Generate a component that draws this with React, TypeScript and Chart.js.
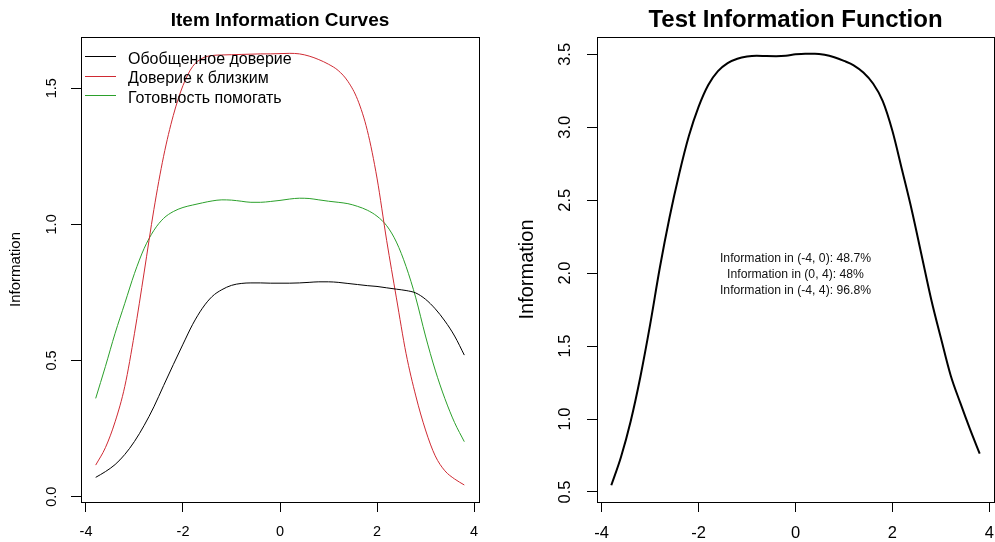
import React, { useEffect, useRef } from "react";
import { Chart, registerables } from "chart.js";

Chart.register(...registerables);

const FONT = '"Liberation Sans", Arial, sans-serif';

// ---- data ----
const theta = [
  -3.8, -3.6, -3.4, -3.2, -3.0, -2.8, -2.6, -2.4, -2.2, -2.0, -1.8, -1.6, -1.4,
  -1.2, -1.0, -0.8, -0.6, -0.4, -0.2, 0, 0.2, 0.4, 0.6, 0.8, 1.0, 1.2, 1.4, 1.6,
  1.8, 2.0, 2.2, 2.4, 2.6, 2.8, 3.0, 3.2, 3.4, 3.6, 3.8,
];

const seriesNames = ["Обобщенное доверие", "Доверие к близким", "Готовность помогать"];

const generalTrust = [
  0.071, 0.092, 0.118, 0.155, 0.203, 0.262, 0.33, 0.408, 0.485, 0.56, 0.633,
  0.692, 0.735, 0.76, 0.776, 0.783, 0.785, 0.785, 0.784, 0.784, 0.784, 0.785,
  0.787, 0.789, 0.789, 0.787, 0.783, 0.779, 0.775, 0.772, 0.767, 0.762, 0.757,
  0.748, 0.725, 0.69, 0.645, 0.59, 0.52,
];

const closeTrust = [
  0.116, 0.18, 0.275, 0.405, 0.6, 0.825, 1.055, 1.25, 1.4, 1.51, 1.58, 1.61, 1.62,
  1.622, 1.623, 1.624, 1.625, 1.626, 1.626, 1.627, 1.628, 1.626, 1.618, 1.605,
  1.588, 1.565, 1.525, 1.458, 1.345, 1.17, 0.94, 0.73, 0.525, 0.37, 0.245, 0.15,
  0.095, 0.065, 0.043,
];

const helpReadiness = [
  0.361, 0.478, 0.6, 0.71, 0.82, 0.912, 0.978, 1.022, 1.047, 1.062, 1.071, 1.079,
  1.086, 1.09, 1.089, 1.085, 1.081, 1.081, 1.084, 1.088, 1.093, 1.096, 1.095,
  1.09, 1.085, 1.081, 1.076, 1.066, 1.052, 1.03, 0.995, 0.935, 0.845, 0.73, 0.59,
  0.465, 0.36, 0.272, 0.202,
];

const testInfo = [
  0.546, 0.74, 0.985, 1.29, 1.645, 2.035, 2.38, 2.68, 2.94, 3.14, 3.29, 3.385,
  3.44, 3.47, 3.485, 3.49, 3.488, 3.487, 3.49, 3.5, 3.505, 3.505, 3.497, 3.48,
  3.455, 3.425, 3.375, 3.3, 3.18, 2.975, 2.705, 2.43, 2.125, 1.82, 1.555, 1.3,
  1.11, 0.93, 0.762,
];

const xTickValues = [-4, -2, 0, 2, 4];
const xTickLabels = ["-4", "-2", "0", "2", "4"];
const leftYTickValues = [0, 0.5, 1.0, 1.5];
const leftYTickLabels = ["0.0", "0.5", "1.0", "1.5"];
const rightYTickValues = [0.5, 1.0, 1.5, 2.0, 2.5, 3.0, 3.5];
const rightYTickLabels = ["0.5", "1.0", "1.5", "2.0", "2.5", "3.0", "3.5"];

const annotationLines = [
  "Information in (-4, 0): 48.7%",
  "Information in (0, 4): 48%",
  "Information in (-4, 4): 96.8%",
];

const itemColors = ["#000000", "#CF2A33", "#2BA02B"];

// ---- plugin drawing R-like frame, titles, labels ----
const rPlot = {
  id: "rplot",
  afterDraw(chart: any, _args: any, o: any) {
    const { ctx, chartArea: a, scales } = chart;
    const xs = scales.x;
    const ys = scales.y;
    ctx.save();
    ctx.strokeStyle = "#000";
    ctx.lineWidth = 1;
    const l = Math.round(a.left) + 0.5;
    const t = Math.round(a.top) + 0.5;
    ctx.strokeRect(l, t, Math.round(a.right) - Math.round(a.left), Math.round(a.bottom) - Math.round(a.top));

    ctx.fillStyle = "#000";
    // title
    ctx.font = `bold ${o.titleSize}px ${FONT}`;
    ctx.textAlign = "center";
    ctx.textBaseline = "alphabetic";
    ctx.fillText(o.title, (a.left + a.right) / 2, o.titleBaseline);

    // x tick labels
    ctx.font = `${o.tickSize}px ${FONT}`;
    ctx.textBaseline = "middle";
    o.xTicks.forEach((v: number, i: number) => {
      ctx.fillText(o.xLabels[i], xs.getPixelForValue(v), o.xLabelY);
    });
    // y tick labels (rotated)
    o.yTicks.forEach((v: number, i: number) => {
      ctx.save();
      ctx.translate(o.yLabelX, ys.getPixelForValue(v));
      ctx.rotate(-Math.PI / 2);
      ctx.fillText(o.yLabels[i], 0, 0);
      ctx.restore();
    });
    // y title
    ctx.font = `${o.yTitleSize}px ${FONT}`;
    ctx.save();
    ctx.translate(o.yTitleX, (a.top + a.bottom) / 2);
    ctx.rotate(-Math.PI / 2);
    ctx.fillText("Information", 0, 0);
    ctx.restore();

    // legend
    if (o.legend) {
      ctx.font = `${o.legend.size}px ${FONT}`;
      ctx.textAlign = "left";
      ctx.textBaseline = "alphabetic";
      o.legend.items.forEach((it: any, i: number) => {
        const y = o.legend.y0 + i * o.legend.dy;
        ctx.strokeStyle = it.color;
        ctx.lineWidth = 1;
        ctx.beginPath();
        ctx.moveTo(o.legend.x0, Math.round(y) + 0.5);
        ctx.lineTo(o.legend.x1, Math.round(y) + 0.5);
        ctx.stroke();
        ctx.fillStyle = "#000";
        ctx.fillText(it.label, o.legend.tx, y + 7.5);
      });
    }

    // annotation
    if (o.note) {
      ctx.font = `${o.note.size}px ${FONT}`;
      ctx.textAlign = "center";
      ctx.textBaseline = "middle";
      ctx.fillStyle = "#111";
      const cx = xs.getPixelForValue(o.note.x);
      const cy = ys.getPixelForValue(o.note.y);
      o.note.lines.forEach((s: string, i: number) => {
        ctx.fillText(s, cx, cy + (i - 1) * o.note.dy + 1);
      });
    }
    ctx.restore();
  },
};

function makeScales(xMin: number, xMax: number, yMin: number, yMax: number, yTicks: number[], yWidth: number) {
  const grid = {
    display: true,
    drawOnChartArea: false,
    drawTicks: true,
    tickLength: 10,
    color: "#000",
    lineWidth: 1,
  };
  return {
    x: {
      type: "linear",
      min: xMin,
      max: xMax,
      grid,
      border: { display: false },
      ticks: { display: false },
      afterBuildTicks: (s: any) => {
        s.ticks = xTickValues.map((v) => ({ value: v }));
      },
      afterFit: (s: any) => {
        s.height = 40;
      },
    },
    y: {
      type: "linear",
      min: yMin,
      max: yMax,
      grid,
      border: { display: false },
      ticks: { display: false },
      afterBuildTicks: (s: any) => {
        s.ticks = yTicks.map((v) => ({ value: v }));
      },
      afterFit: (s: any) => {
        s.width = yWidth;
      },
    },
  };
}

function toPoints(ys: number[]) {
  return theta.map((x, i) => ({ x, y: ys[i] }));
}

export default function App() {
  const leftRef = useRef<HTMLCanvasElement | null>(null);
  const rightRef = useRef<HTMLCanvasElement | null>(null);

  useEffect(() => {
    const itemSeries = [generalTrust, closeTrust, helpReadiness];
    const left = new Chart(leftRef.current as HTMLCanvasElement, {
      type: "line",
      data: {
        datasets: itemSeries.map((s, i) => ({
          label: seriesNames[i],
          data: toPoints(s),
          borderColor: itemColors[i],
          borderWidth: 1,
          pointRadius: 0,
          cubicInterpolationMode: "monotone",
          fill: false,
        })),
      },
      options: {
        responsive: false,
        animation: false,
        events: [],
        layout: { padding: { top: 37, right: 21, bottom: 0, left: 0 } },
        scales: makeScales(-4.103, 4.103, -0.0195, 1.688, leftYTickValues, 81) as any,
        plugins: {
          legend: { display: false },
          tooltip: { enabled: false },
          title: { display: false },
          rplot: {
            title: "Item Information Curves",
            titleSize: 19,
            titleBaseline: 25.5,
            tickSize: 14.5,
            xTicks: xTickValues,
            xLabels: xTickLabels,
            xLabelY: 532,
            yTicks: leftYTickValues,
            yLabels: leftYTickLabels,
            yLabelX: 52,
            yTitleSize: 15,
            yTitleX: 15.5,
            legend: {
              size: 16,
              x0: 85,
              x1: 116,
              tx: 128,
              y0: 56,
              dy: 19.5,
              items: seriesNames.map((n, i) => ({ label: n, color: itemColors[i] })),
            },
          },
        } as any,
      },
      plugins: [rPlot],
    });

    const right = new Chart(rightRef.current as HTMLCanvasElement, {
      type: "line",
      data: {
        datasets: [
          {
            label: "Test Information",
            data: toPoints(testInfo),
            borderColor: "#000",
            borderWidth: 2,
            pointRadius: 0,
            cubicInterpolationMode: "monotone",
            fill: false,
          },
        ],
      },
      options: {
        responsive: false,
        animation: false,
        events: [],
        layout: { padding: { top: 37, right: 1, bottom: 0, left: 0 } },
        scales: makeScales(-4.095, 4.095, 0.431, 3.619, rightYTickValues, 97) as any,
        plugins: {
          legend: { display: false },
          tooltip: { enabled: false },
          title: { display: false },
          rplot: {
            title: "Test Information Function",
            titleSize: 24,
            titleBaseline: 26.5,
            tickSize: 16.5,
            xTicks: xTickValues,
            xLabels: xTickLabels,
            xLabelY: 533,
            yTicks: rightYTickValues,
            yLabels: rightYTickLabels,
            yLabelX: 65.5,
            yTitleSize: 20,
            yTitleX: 27,
            note: { x: 0, y: 2, dy: 16, size: 12.2, lines: annotationLines },
          },
        } as any,
      },
      plugins: [rPlot],
    });

    return () => {
      left.destroy();
      right.destroy();
    };
  }, []);

  return (
    <div
      style={{
        position: "fixed",
        left: 0,
        top: 0,
        width: 995,
        height: 542,
        background: "#fff",
        overflow: "hidden",
      }}
    >
      <canvas
        ref={leftRef}
        width={500}
        height={542}
        style={{ position: "absolute", left: 0, top: 0, width: 500, height: 542 }}
      />
      <canvas
        ref={rightRef}
        width={495}
        height={542}
        style={{ position: "absolute", left: 500, top: 0, width: 495, height: 542 }}
      />
    </div>
  );
}
